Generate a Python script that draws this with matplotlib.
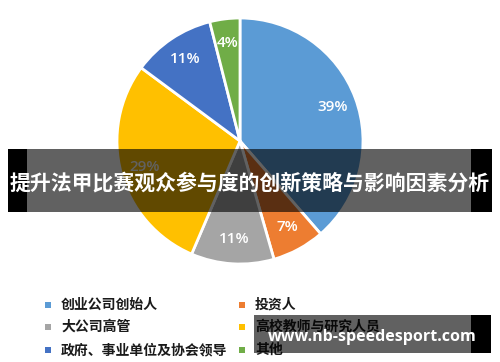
import matplotlib
matplotlib.use('Agg')
from matplotlib import pyplot as plt
from matplotlib.patches import Rectangle

plt.rcParams['font.family'] = ['Noto Sans CJK SC', 'DejaVu Sans']

# pie data, clockwise from 12 o'clock
categories = ['创业公司创始人', '投资人', '大公司高管', '高校教师与研究人员',
              '政府、事业单位及协会领导', '其他']
shares = [39, 7, 11, 29, 11, 4]
colors = ['#5B9BD5', '#ED7D31', '#A5A5A5', '#FFC000', '#4472C4', '#70AD47']
title = '提升法甲比赛观众参与度的创新策略与影响因素分析'
watermark = 'www.nb-speedesport.com'

W, H = 500, 362


def fx(x):
    return x / W


def fy(y):
    return 1 - y / H            # pixel row from top -> figure fraction


def box(x0, y0, x1, y1, color, alpha):
    fig.add_artist(Rectangle((fx(x0), fy(y1)), fx(x1) - fx(x0), fy(y0) - fy(y1),
                             transform=fig.transFigure, facecolor=color,
                             edgecolor='none', alpha=alpha, zorder=5))


fig = plt.figure(figsize=(W / 100, H / 100), dpi=100)

# pie: centre (240, 141), radius 123 px
ax = fig.add_axes([fx(117), fy(264), 246 / W, 246 / H])
total = sum(shares)
wedges, texts, autotexts = ax.pie(
    shares, colors=colors, startangle=90, counterclock=False,
    autopct=lambda p: '%.0f%%' % (p * total / 100), pctdistance=0.8,
    wedgeprops=dict(edgecolor='white', linewidth=2),
    textprops=dict(color='white', fontsize=11, fontweight='semibold',
                   family=['Open Sans', 'DejaVu Sans']))
ax.set_xlim(-1.0, 1.0)
ax.set_ylim(-1.0, 1.0)
ax.set_aspect('equal')

# legend, laid out row by row in two columns
for i, (lab, c) in enumerate(zip(categories, colors)):
    row, col = divmod(i, 2)
    x = [48, 242][col]
    y = [305, 327, 350][row]
    fig.add_artist(Rectangle((fx(x - 3), fy(y + 3)), 6 / W, 6 / H,
                             transform=fig.transFigure, facecolor=c,
                             edgecolor='none'))
    fig.text(fx(x + 13), fy(y), lab, fontsize=10, fontweight='bold',
             color='#1a1a1a', va='center', ha='left')

# title banner across the middle
box(8, 149, 492, 212, 'black', 0.62)
box(8, 149, 27, 212, 'black', 1.0)
box(471, 149, 492, 212, 'black', 1.0)
fig.text(0.5, fy(183), title, fontsize=15, fontweight='bold', color='white',
         ha='center', va='center', zorder=6)

# watermark banner, bottom right
box(254, 315, 471, 353, 'black', 0.62)
box(471, 315, 491, 353, 'black', 1.0)
fig.text(fx(372), fy(337), watermark, fontsize=11.5, fontweight='bold',
         color='white', ha='center', va='center', zorder=6,
         family=['Open Sans', 'DejaVu Sans'])

fig.savefig('out.png', dpi=100)
